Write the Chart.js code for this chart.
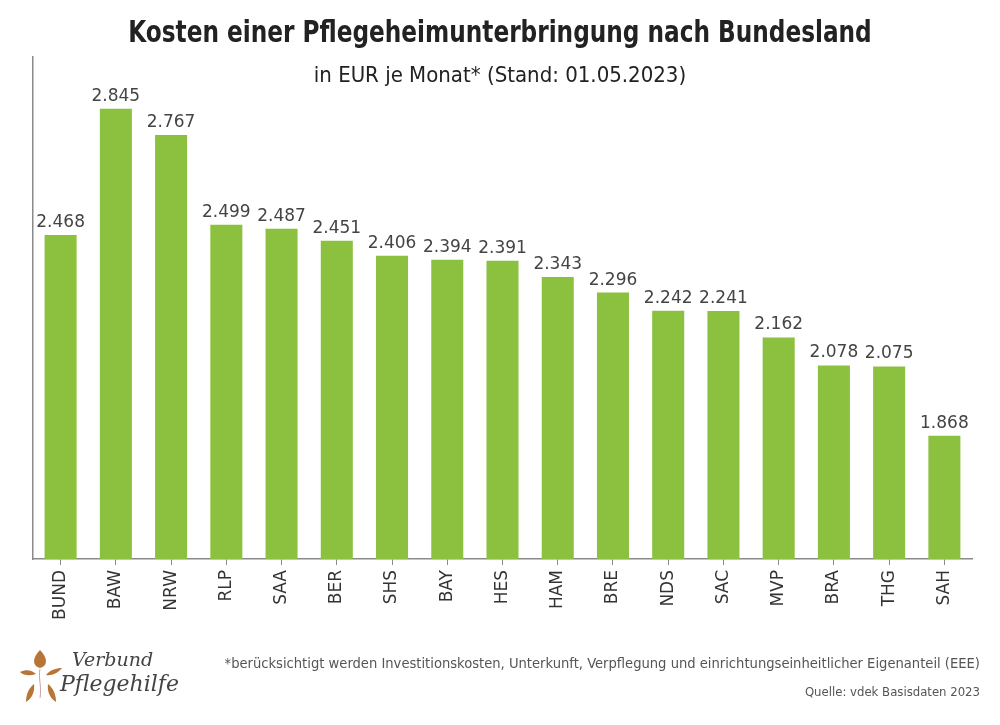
<!DOCTYPE html>
<html lang="de">
<head>
<meta charset="utf-8">
<title>Kosten einer Pflegeheimunterbringung nach Bundesland</title>
<script src="https://cdn.jsdelivr.net/npm/chart.js@4.4.0/dist/chart.umd.min.js"></script>
<style>
  html, body { margin: 0; padding: 0; background: #fff; }
  #wrap { position: relative; width: 1000px; height: 725px; overflow: hidden; }
  #chart { position: absolute; left: 0; top: 0; }
  .title {
    position: absolute; left: 0; width: 1000px; top: 14px; text-align: center;
    font: bold 30px "Liberation Sans Narrow", "DejaVu Sans Condensed", sans-serif; color: #222;
    transform: scaleX(0.86);
  }
  .subtitle {
    position: absolute; left: 0; width: 1000px; top: 62px; text-align: center;
    font: 22px "DejaVu Sans Condensed", sans-serif; color: #222;
  }
  .note {
    position: absolute; right: 20px; text-align: right;
    font-family: "DejaVu Sans Condensed", sans-serif; color: #555;
  }
  .logo { position: absolute; left: 18px; top: 648px; }
  .logo1 { position: absolute; left: 72px; top: 648px; font: italic 19px "DejaVu Serif", serif; color: #444; }
  .logo2 { position: absolute; left: 60px; top: 671px; font: italic 22px "DejaVu Serif", serif; color: #444; }
</style>
</head>
<body>
<div id="wrap">
  <canvas id="chart" width="1000" height="725"></canvas>
  <div class="title">Kosten einer Pflegeheimunterbringung nach Bundesland</div>
  <div class="subtitle">in EUR je Monat* (Stand: 01.05.2023)</div>

  <svg class="logo" width="50" height="56" viewBox="0 0 50 56">
    <path d="M22 2 C14 10 14 18 22 20 C30 18 30 10 22 2 Z" fill="#b87636"/>
    <path d="M2 24 C8 21 14 22 18 26 C12 28 6 28 2 24 Z" fill="#b87636"/>
    <path d="M44 20 C38 20 32 22 28 27 C34 28 40 25 44 20 Z" fill="#b87636"/>
    <path d="M8 54 C8 46 11 40 16 36 C17 44 14 50 8 54 Z" fill="#b87636"/>
    <path d="M38 54 C38 46 35 40 30 36 C29 44 32 50 38 54 Z" fill="#b87636"/>
    <path d="M22 21 C20 30 24 38 22 50" stroke="#c9a0a0" stroke-width="1" fill="none"/>
  </svg>
  <div class="logo1">Verbund</div>
  <div class="logo2">Pflegehilfe</div>

  <div class="note" style="top:654px; font-size:14.6px">*berücksichtigt werden Investitionskosten, Unterkunft, Verpflegung und einrichtungseinheitlicher Eigenanteil (EEE)</div>
  <div class="note" style="top:684px; font-size:13px">Quelle: vdek Basisdaten 2023</div>
</div>

<script>
const states = ["BUND", "BAW", "NRW", "RLP", "SAA", "BER", "SHS", "BAY", "HES",
                "HAM", "BRE", "NDS", "SAC", "MVP", "BRA", "THG", "SAH"];
const costs = [2468, 2845, 2767, 2499, 2487, 2451, 2406, 2394, 2391,
               2343, 2296, 2242, 2241, 2162, 2078, 2075, 1868];
const yMin = 1500;
const yMax = 3000;

const barGreen = '#8cc13f';
const axisGray = '#8a8a8a';

// value labels above each bar
const valueLabels = {
  id: 'valueLabels',
  afterDatasetsDraw(chart) {
    const ctx = chart.ctx;
    const meta = chart.getDatasetMeta(0);
    ctx.save();
    ctx.font = '17px "DejaVu Sans", sans-serif';
    ctx.fillStyle = '#444';
    ctx.textAlign = 'center';
    ctx.textBaseline = 'bottom';
    meta.data.forEach((bar, i) => {
      ctx.fillText(costs[i].toLocaleString('de-DE'), bar.x, bar.y - 4);
    });
    ctx.restore();
  }
};

new Chart(document.getElementById('chart'), {
  type: 'bar',
  data: {
    labels: states,
    datasets: [{
      data: costs,
      backgroundColor: barGreen,
      borderWidth: 0,
      categoryPercentage: 1,
      barPercentage: 0.58
    }]
  },
  options: {
    responsive: false,
    animation: false,
    layout: { padding: { left: 33, right: 28, top: 57, bottom: 96 } },
    plugins: {
      legend: { display: false },
      tooltip: { enabled: false }
    },
    scales: {
      x: {
        afterFit(scale) { scale.height = 70; },
        grid: { offset: false, drawOnChartArea: false, drawTicks: true, tickLength: 6, color: axisGray },
        border: { display: true, color: axisGray, width: 1.5 },
        ticks: {
          minRotation: 90, maxRotation: 90, padding: 5,
          color: '#333',
          font: { family: '"DejaVu Sans", sans-serif', size: 17 }
        }
      },
      y: {
        min: yMin, max: yMax,
        afterFit(scale) { scale.width = 0; },
        grid: { display: false },
        border: { display: true, color: axisGray, width: 1.5 },
        ticks: { display: false }
      }
    }
  },
  plugins: [valueLabels]
});
</script>
</body>
</html>
